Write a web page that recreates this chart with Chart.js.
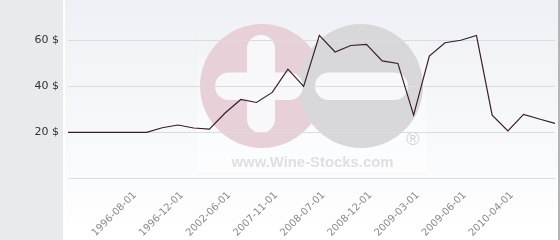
<!DOCTYPE html>
<html>
<head>
<meta charset="utf-8">
<script src="https://cdn.jsdelivr.net/npm/chart.js@4/dist/chart.umd.min.js"></script>
<style>
  html, body { margin: 0; padding: 0; background: #fff; }
  #c { display: block; }
</style>
</head>
<body>
<canvas id="c" width="560" height="240"></canvas>
<script>
// one entry per point; only every third point carries a date on the axis
const categories = ['', '', '', '', '1996-08-01', '', '', '1996-12-01', '', '', '2002-06-01', '',
  '', '2007-11-01', '', '', '2008-07-01', '', '', '2008-12-01', '', '', '2009-03-01', '',
  '', '2009-06-01', '', '', '2010-04-01', '', '', ''];
const prices = [20, 20, 20, 20, 20, 20, 22.0, 23.2, 21.9, 21.4, 28.4, 34.3, 33.0, 37.4, 47.5, 40.0,
  62.2, 55.0, 57.8, 58.3, 51.1, 50.0, 27.5, 53.2, 59.0, 60.1, 62.2, 27.5, 20.6, 27.8, 25.8, 23.9];
const yTicks = [0, 20, 40, 60];

// panel backgrounds + the wine-stocks watermark, drawn under the grid
const backdrop = {
  id: 'backdrop',
  beforeDraw(chart) {
    const ctx = chart.ctx;
    ctx.save();
    ctx.fillStyle = '#e7ebee';
    ctx.fillRect(0, 0, 63, 240);
    ctx.fillStyle = '#ffffff';
    ctx.fillRect(63, 0, 2, 240);
    const g = ctx.createLinearGradient(0, 0, 0, 240);
    g.addColorStop(0, '#eef0f5');
    g.addColorStop(1, '#ffffff');
    ctx.fillStyle = g;
    ctx.fillRect(65, 0, 493, 240);
    ctx.fillStyle = '#b4b4b6';
    ctx.fillRect(558, 0, 2, 240);

    const wg = ctx.createLinearGradient(0, 20, 0, 172);
    wg.addColorStop(0, 'rgba(255,255,255,0)');
    wg.addColorStop(1, 'rgba(255,255,255,0.6)');
    ctx.fillStyle = wg;
    ctx.fillRect(197, 20, 230, 152);

    ctx.fillStyle = '#e8d0d8';
    ctx.beginPath();
    ctx.arc(262, 86, 62, 0, Math.PI * 2);
    ctx.fill();
    ctx.fillStyle = '#d8d8da';
    ctx.beginPath();
    ctx.arc(361, 86, 62, 0, Math.PI * 2);
    ctx.fill();

    ctx.fillStyle = '#f8f8fa';
    ctx.beginPath();
    ctx.roundRect(247, 35, 28, 98, 14);
    ctx.roundRect(215, 72.5, 88, 27.5, 13.75);
    ctx.roundRect(315, 72.5, 93, 27.5, 13.75);
    ctx.fill();

    ctx.fillStyle = '#dfdfe1';
    ctx.textAlign = 'center';
    ctx.textBaseline = 'alphabetic';
    ctx.font = 'bold 16px "Liberation Sans"';
    const w = ctx.measureText('www.Wine-Stocks.com').width;
    ctx.font = 'bold ' + (16 * 162 / w).toFixed(2) + 'px "Liberation Sans"';
    ctx.fillText('www.Wine-Stocks.com', 312.5, 166.7);

    ctx.fillStyle = '#d2d2d4';
    ctx.textBaseline = 'middle';
    ctx.font = '18px "Liberation Sans"';
    ctx.fillText('\u00ae', 413, 140);
    ctx.restore();
  }
};

new Chart(document.getElementById('c'), {
  type: 'line',
  data: {
    labels: categories,
    datasets: [{
      data: prices,
      borderColor: '#3a1c2c',
      borderWidth: 1.2,
      pointRadius: 0,
      tension: 0,
      fill: false
    }]
  },
  options: {
    responsive: false,
    animation: false,
    events: [],
    layout: { padding: { top: 6, right: 5, left: 0, bottom: 0 } },
    plugins: { legend: { display: false }, tooltip: { enabled: false } },
    scales: {
      x: {
        offset: false,
        grid: { display: false },
        border: { display: false },
        ticks: {
          autoSkip: false,
          minRotation: 45,
          maxRotation: 45,
          labelOffset: 4,
          color: '#8a8a8a',
          font: { family: '"DejaVu Sans"', size: 10 }
        },
        afterFit(s) {
          s.height = 61.7;
          s.paddingLeft = 0;
          s.paddingRight = 0;
        }
      },
      y: {
        min: 0,
        max: 75,
        afterBuildTicks(s) { s.ticks = yTicks.map(v => ({ value: v })); },
        grid: { color: '#dcdcdc', drawTicks: false },
        border: { display: false },
        ticks: {
          color: '#333333',
          padding: 9,
          font: { family: '"DejaVu Sans"', size: 11 },
          callback: v => v === 0 ? '' : v + ' $'
        },
        afterFit(s) {
          s.width = 68;
          s.paddingTop = 0;
          s.paddingBottom = 0;
        }
      }
    }
  },
  plugins: [backdrop]
});
</script>
</body>
</html>
